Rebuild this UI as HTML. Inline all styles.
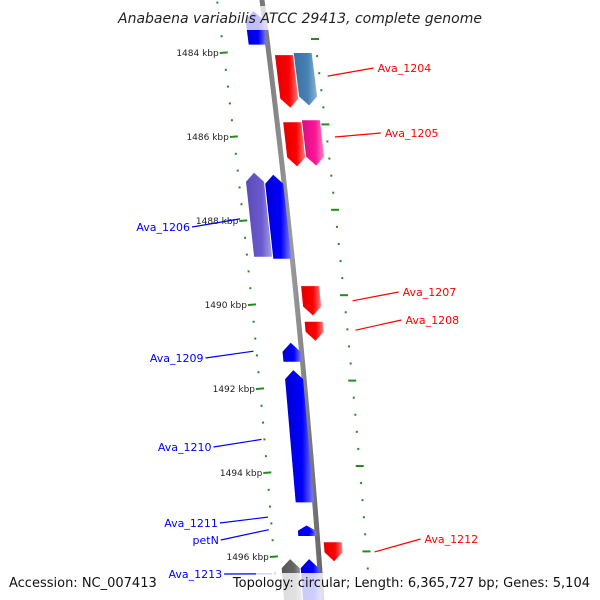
<!DOCTYPE html>
<html><head><meta charset="utf-8">
<style>
html,body{margin:0;padding:0;background:#fff;}
svg{display:block;font-family:"DejaVu Sans","Liberation Sans",sans-serif;}
</style></head>
<body>
<svg id="map" width="600" height="600" viewBox="0 0 600 600" xmlns="http://www.w3.org/2000/svg">
<defs>
<linearGradient id="gRed" x1="0" x2="1"><stop offset="0" stop-color="#e00000"/><stop offset="0.6" stop-color="#ff0000"/><stop offset="1" stop-color="#ff8080"/></linearGradient>
<linearGradient id="gBlue" x1="0" x2="1"><stop offset="0" stop-color="#0000d0"/><stop offset="0.6" stop-color="#0000ff"/><stop offset="1" stop-color="#8080ff"/></linearGradient>
<linearGradient id="gSteel" x1="0" x2="1"><stop offset="0" stop-color="#3a6f9f"/><stop offset="0.6" stop-color="#4682b4"/><stop offset="1" stop-color="#8fb4d8"/></linearGradient>
<linearGradient id="gPink" x1="0" x2="1"><stop offset="0" stop-color="#d0108a"/><stop offset="0.6" stop-color="#ff1493"/><stop offset="1" stop-color="#ff8ac8"/></linearGradient>
<linearGradient id="gPurple" x1="0" x2="1"><stop offset="0" stop-color="#5a4ab8"/><stop offset="0.6" stop-color="#6a5acd"/><stop offset="1" stop-color="#a8a0e8"/></linearGradient>
<linearGradient id="gGray" x1="0" x2="1"><stop offset="0" stop-color="#555"/><stop offset="0.6" stop-color="#666"/><stop offset="1" stop-color="#aaa"/></linearGradient>
<linearGradient id="gBack" x1="0" x2="1"><stop offset="0" stop-color="#777"/><stop offset="0.5" stop-color="#9a9a9a"/><stop offset="1" stop-color="#666"/></linearGradient>
</defs>
<g id="ticks"></g>
<g id="backbone"></g>
<g id="genes"></g>
<g id="labels"></g>
<rect x="115" y="6" width="370" height="24" fill="#fff" fill-opacity="0.75"/>
<text x="300" y="23" text-anchor="middle" font-size="14" font-style="italic" fill="#222">Anabaena variabilis ATCC 29413, complete genome</text>
<rect x="256" y="573" width="340" height="27" fill="#fff" fill-opacity="0.8"/>
<rect x="6" y="573" width="140" height="20" fill="#fff" fill-opacity="0.8"/>
<text x="9" y="587" font-size="13" fill="#111">Accession: NC_007413</text>
<text x="590" y="587" text-anchor="end" font-size="13" fill="#111">Topology: circular; Length: 6,365,727 bp; Genes: 5,104</text>
</svg>
<script>
// data arrays
const geneNames = ["Ava_1203","Ava_1204","Ava_1204c","Ava_1205","Ava_1205c","Ava_1206","Ava_1206c","Ava_1207","Ava_1208","Ava_1209","Ava_1210","Ava_1211","Ava_1212","Ava_1213","Ava_1213c"];
const geneStart = [1483.0,1484.05,1484.0,1485.65,1485.6,1486.9,1486.85,1489.55,1490.4,1490.9,1491.55,1495.25,1495.65,1496.05,1496.05];
const geneEnd   = [1483.8,1485.3,1485.25,1486.7,1486.68,1488.9,1488.85,1490.25,1490.85,1491.35,1494.7,1495.5,1496.1,1497.2,1497.2];
const geneStrand = [-1,1,1,1,1,-1,-1,1,1,-1,-1,-1,1,-1,-1];
const geneTrack = ["rev","fwd","fcog","fwd","fcog","rev","rcog","fwd","fwd","rev","rev","rev","fwd","rev","rcog"];
const geneColor = ["gBlue","gRed","gSteel","gRed","gPink","gBlue","gPurple","gRed","gRed","gBlue","gBlue","gBlue","gRed","gBlue","gGray"];
const majorTicks = [1484,1486,1488,1490,1492,1494,1496];
const labelNames = ["Ava_1204","Ava_1205","Ava_1206","Ava_1207","Ava_1208","Ava_1209","Ava_1210","Ava_1211","petN","Ava_1212","Ava_1213"];
const labelKbp = [1484.55,1486.0,1487.95,1489.9,1490.6,1491.1,1493.2,1495.05,1495.35,1495.88,1496.4];
const labelSide = [1,1,-1,1,1,-1,-1,-1,-1,1,-1];
const labelY = [68,133,227,292,320,358,447,523,540,539,574];

const NS="http://www.w3.org/2000/svg";
const pxPerKbp=42, y0=53, k0=1484;
function yOf(k){return y0+(k-k0)*pxPerKbp;}
function bx(y){return 262+0.13*y-0.00005*y*y;}
const trackOff={fwd:15,fcog:34,rev:-10,rcog:-29};
function mk(tag,attrs,parent){const e=document.createElementNS(NS,tag);for(const a in attrs)e.setAttribute(a,attrs[a]);parent.appendChild(e);return e;}

// backbone
const bb=document.getElementById('backbone');
let pts=[];for(let y=-5;y<=605;y+=5)pts.push(bx(y)+","+y);
const bl=mk('polyline',{points:pts.join(" "),fill:"none",stroke:"url(#gBack)","stroke-width":5},bb);



// ticks
const tg=document.getElementById('ticks');
for(let k=1482.8;k<=1497.6;k+=0.4){
  const y=yOf(k);
  const major=majorTicks.some(m=>Math.abs(m-k)<0.01);
  const x=bx(y)-45;
  const t=mk('line',{x1:x-(major?4:1),x2:x+(major?4:1),y1:y,y2:y-(major?0.6:0),stroke:"#228b22","stroke-width":2},tg);
  
  
}
majorTicks.forEach(k=>{
  const y=yOf(k);
  const t=mk('text',{x:bx(y)-50,y:y+3,"text-anchor":"end","font-size":9,fill:"#222"},tg);
  t.textContent=k+" kbp";
  
  
});
// right ring ticks
for(let i=-1;i<=40;i++){
  const y=39+i*85.4/5;
  if(y<0||y>600)continue;
  const major=(i%5===0);
  const x=bx(y)+48;
  const t=mk('line',{x1:x-(major?4:1),x2:x+(major?4:1),y1:y,y2:y,stroke:"#228b22","stroke-width":2},tg);
  
  
}

// genes
const gg=document.getElementById('genes');
for(let i=0;i<geneNames.length;i++){
  const ya=yOf(geneStart[i]), yb=yOf(geneEnd[i]);
  const off=trackOff[geneTrack[i]], w=18, h=Math.min(9,(yb-ya)*0.5);
  const cA=bx(ya)+off, cB=bx(yb)+off;
  let p;
  if(geneStrand[i]>0){ // points down
    const yh=yb-h, cH=bx(yh)+off;
    p=[[cA-w/2,ya],[cA+w/2,ya],[cH+w/2,yh],[cB,yb],[cH-w/2,yh]];
  } else {
    const yh=ya+h, cH=bx(yh)+off;
    p=[[cA,ya],[cH+w/2,yh],[cB+w/2,yb],[cB-w/2,yb],[cH-w/2,yh]];
  }
  const g=mk('polygon',{points:p.map(q=>q[0].toFixed(1)+","+q[1].toFixed(1)).join(" "),fill:"url(#"+geneColor[i]+")"},gg);
  
  
}
// small chevrons for Ava_1211
{
  const y=yOf(1495.3), c=bx(y)-10;
  const ch=mk('polygon',{points:`${c-7},${y+5} ${c},${y} ${c+7},${y+5}`,fill:"#0000ff"},gg);
  
  
}

// labels
const lg=document.getElementById('labels');
for(let i=0;i<labelNames.length;i++){
  const yk=yOf(labelKbp[i]);
  const side=labelSide[i];
  const col=side>0?"#ff0000":"#0000ff";
  const ly=labelY[i];
  const xr=bx(yk)+(side>0?56:-48);
  let x2=side>0?xr+46:xr-48;
  const ln=mk('line',{x1:xr,y1:yk,x2:x2,y2:ly,stroke:col,"stroke-width":1.2},lg);
  
  
  const t=mk('text',{x:side>0?x2+4:x2-2,y:ly+4,"text-anchor":side>0?"start":"end","font-size":11,fill:col},lg);
  t.textContent=labelNames[i];
  
  
}
</script>
</body></html>
